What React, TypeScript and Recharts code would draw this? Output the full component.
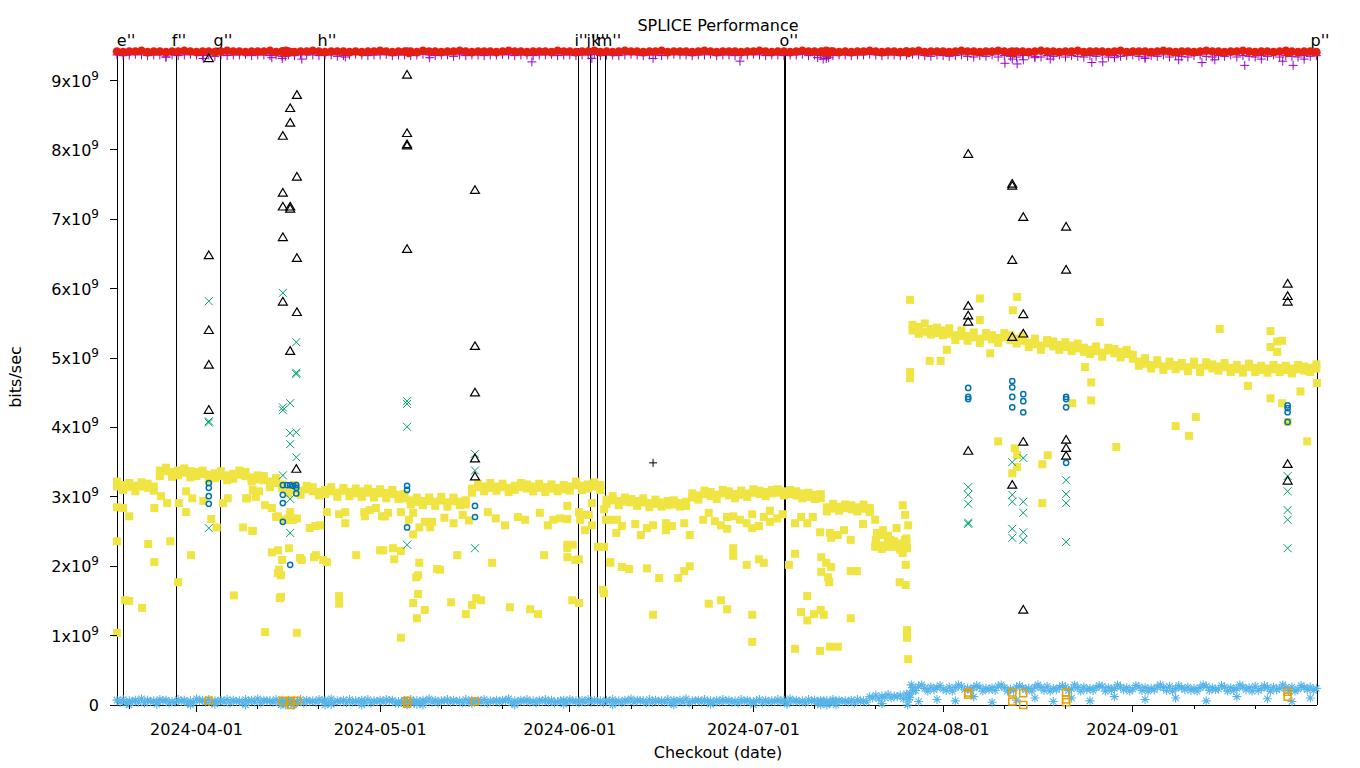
import React from 'react';
import { ScatterChart, Scatter, XAxis, YAxis, ReferenceLine } from 'recharts';

// x values are days counted from 2024-04-01, y values are in units of 1e9 bits/sec
const FIRST_DAY = -13;
const X_MIN = -13.0;
const X_MAX = 183.1;
const Y_MAX = 9.47;

const tickDates = ['2024-04-01', '2024-05-01', '2024-06-01', '2024-07-01', '2024-08-01', '2024-09-01'];
const minorTickDates = [
  '2024-03-21', '2024-04-11', '2024-04-21', '2024-05-11', '2024-05-21', '2024-06-11', '2024-06-21',
  '2024-07-11', '2024-07-21', '2024-08-11', '2024-08-21', '2024-09-11', '2024-09-21',
];
const yTicks = [0, 1, 2, 3, 4, 5, 6, 7, 8, 9];

// checkout markers (vertical lines)
const markerDays = [-13.0, -12.0, -3.35, 3.84, 20.83, 62.34, 64.3, 65.5, 66.9, 96.0, 96.3, 183.1];
const markerNames = ['', "e''", "f''", "g''", "h''", "i''", "j''", "k''", "m''", '', "o''", "p''"];

// one value per day, starting at FIRST_DAY
const redDaily = [
  9.42, 9.41, 9.42, 9.42, 9.43, 9.41, 9.42, 9.42, 9.41, 9.42, 9.42, 9.43, 9.42, 9.41, 9.42, 9.42, 9.41, 9.42, 9.43, 9.42,
  9.42, 9.41, 9.42, 9.42, 9.42, 9.43, 9.41, 9.42, 9.42, 9.41, 9.42, 9.42, 9.43, 9.42, 9.41, 9.42, 9.42, 9.42, 9.41, 9.42,
  9.41, 9.42, 9.42, 9.43, 9.42, 9.41, 9.42, 9.42, 9.42, 9.41, 9.43, 9.42, 9.42, 9.41, 9.42, 9.42, 9.43, 9.42, 9.41, 9.42,
  9.42, 9.42, 9.41, 9.42, 9.43, 9.42, 9.42, 9.41, 9.42, 9.42, 9.42, 9.41, 9.43, 9.42, 9.42, 9.41, 9.42, 9.42, 9.43, 9.41,
  9.42, 9.41, 9.42, 9.43, 9.42, 9.42, 9.41, 9.42, 9.42, 9.43, 9.41, 9.42, 9.42, 9.42, 9.41, 9.42, 9.43, 9.42, 9.41, 9.42,
  9.42, 9.42, 9.41, 9.42, 9.42, 9.43, 9.42, 9.41, 9.42, 9.42, 9.41, 9.42, 9.43, 9.42, 9.42, 9.41, 9.42, 9.42, 9.41, 9.42,
  9.41, 9.42, 9.42, 9.43, 9.42, 9.41, 9.42, 9.42, 9.41, 9.42, 9.42, 9.43, 9.41, 9.42, 9.42, 9.42, 9.41, 9.42, 9.43, 9.42,
  9.42, 9.41, 9.42, 9.42, 9.43, 9.42, 9.41, 9.42, 9.42, 9.41, 9.42, 9.43, 9.42, 9.42, 9.41, 9.42, 9.42, 9.43, 9.41, 9.42,
  9.42, 9.42, 9.41, 9.42, 9.43, 9.41, 9.42, 9.42, 9.42, 9.41, 9.42, 9.43, 9.42, 9.41, 9.42, 9.42, 9.41, 9.42, 9.43, 9.42,
  9.42, 9.41, 9.42, 9.42, 9.43, 9.42, 9.41, 9.42, 9.42, 9.41, 9.42, 9.43, 9.42, 9.41, 9.42, 9.42, 9.41,
];
const redExtra = [
  [14.0, 9.42], [14.3, 9.4], [14.6, 9.43], [15.3, 9.41], [34.4, 9.42], [34.7, 9.4], [102.1, 9.42], [102.5, 9.41],
  [102.9, 9.43], [103.3, 9.4], [103.7, 9.42], [116.0, 9.42], [116.3, 9.4], [133.3, 9.42], [133.6, 9.4], [178.3, 9.4],
];

const purpleDaily = [
  9.37, 9.36, 9.37, 9.38, 9.37, 9.36, 9.37, 9.37, 9.34, 9.37, 9.36, 9.37, 9.38, 9.37, 9.36, 9.37, 9.35, 9.37, 9.36, 9.37,
  9.37, 9.38, 9.36, 9.37, 9.37, 9.36, 9.37, 9.35, 9.37, 9.36, 9.38, 9.37, 9.37, 9.36, 9.37, 9.37, 9.35, 9.36, 9.37, 9.38,
  9.37, 9.36, 9.37, 9.37, 9.38, 9.36, 9.37, 9.37, 9.36, 9.37, 9.38, 9.37, 9.36, 9.37, 9.37, 9.35, 9.37, 9.36, 9.37, 9.37,
  9.36, 9.37, 9.37, 9.38, 9.37, 9.36, 9.37, 9.37, 9.36, 9.37, 9.37, 9.38, 9.36, 9.37, 9.37, 9.36, 9.37, 9.37, 9.38, 9.36,
  9.37, 9.37, 9.36, 9.37, 9.38, 9.37, 9.36, 9.37, 9.37, 9.36, 9.37, 9.38, 9.37, 9.37, 9.36, 9.37, 9.37, 9.38, 9.36, 9.37,
  9.37, 9.36, 9.37, 9.37, 9.38, 9.37, 9.36, 9.37, 9.37, 9.36, 9.37, 9.37, 9.38, 9.36, 9.37, 9.36, 9.35, 9.36, 9.37, 9.37,
  9.36, 9.37, 9.37, 9.38, 9.37, 9.36, 9.37, 9.37, 9.36, 9.37, 9.38, 9.37, 9.36, 9.35, 9.37, 9.36, 9.35, 9.36, 9.37, 9.35,
  9.34, 9.36, 9.35, 9.37, 9.34, 9.36, 9.35, 9.34, 9.36, 9.37, 9.35, 9.34, 9.36, 9.35, 9.37, 9.34, 9.36, 9.35, 9.34, 9.36,
  9.35, 9.37, 9.34, 9.36, 9.35, 9.36, 9.37, 9.35, 9.34, 9.36, 9.35, 9.37, 9.34, 9.36, 9.35, 9.34, 9.36, 9.37, 9.35, 9.34,
  9.36, 9.35, 9.37, 9.34, 9.36, 9.35, 9.34, 9.36, 9.35, 9.37, 9.34, 9.36, 9.35, 9.34, 9.36, 9.35, 9.36,
];
const purpleExtra = [
  [-5.0, 9.34], [1.1, 9.32], [12.3, 9.33], [14.0, 9.32], [14.5, 9.35], [17.2, 9.31], [24.3, 9.34], [38.1, 9.33],
  [54.8, 9.27], [64.6, 9.32], [74.6, 9.32], [88.8, 9.28], [101.5, 9.33], [102.4, 9.31], [102.9, 9.32], [103.3, 9.33],
  [132.1, 9.25], [133.3, 9.31], [134.1, 9.24], [135.1, 9.3], [137.0, 9.33], [139.5, 9.31], [146.3, 9.26], [148.1, 9.27],
  [150.0, 9.33], [155.0, 9.32], [160.5, 9.3], [164.3, 9.26], [166.4, 9.3], [171.3, 9.22], [174.0, 9.31], [177.5, 9.28],
  [179.2, 9.22], [181.0, 9.31],
];

const yellowDaily = [
  3.15, 3.17, 3.14, 3.16, 3.15, 3.13, 3.15,
  3.38, 3.37, 3.36, 3.38, 3.35, 3.37, 3.36,
  3.33, 3.32, 3.34, 3.3, 3.31, 3.33, 3.32, 3.3, 3.28, 3.31,
  3.24, 3.22, 3.2, 3.18,
  3.12, 3.1, 3.09, 3.11, 3.08, 3.07, 3.1,
  3.08, 3.06, 3.09, 3.07, 3.05, 3.08, 3.06, 3.07, 3.05, 3.06, 3.04,
  3.03, 2.98, 2.95, 2.93, 2.94,
  2.94, 2.93, 2.95, 2.92, 2.94, 2.93, 2.95,
  3.12, 3.14, 3.15, 3.13, 3.15, 3.14, 3.13, 3.16, 3.14, 3.12, 3.15, 3.13, 3.14, 3.12, 3.13, 3.11,
  3.15, 3.17, 3.16, 3.18, 3.15, 3.17,
  2.96, 2.95, 2.94, 2.93, 2.92, 2.94, 2.92, 2.91, 2.9, 2.92, 2.88, 2.89, 2.91, 2.93,
  2.99, 3.02, 3.04, 3.01, 3.03, 3.05, 3.02, 3.04, 3.03, 3.05, 3.06, 3.04, 3.07, 3.05, 3.06,
  3.08, 3.04, 3.02, 3.05, 3.0, 3.03, 2.98,
  2.85, 2.83, 2.86, 2.84, 2.82, 2.85, 2.83, 2.84,
  2.32, 2.3, 2.35, 2.28, 2.33, 2.4,
  5.4, 5.45, 5.38, 5.42, 5.36, 5.4, 5.35, 5.33, 5.32,
  5.32, 5.3, 5.28, 5.31, 5.27, 5.29, 5.3, 5.26, 5.28, 5.25,
  5.22, 5.2, 5.18, 5.21, 5.17, 5.19, 5.16, 5.18, 5.14, 5.15,
  5.12, 5.1, 5.08, 5.11, 5.07, 5.09, 5.06, 5.05,
  4.95, 4.92, 4.9, 4.91, 4.88, 4.89, 4.9,
  4.88, 4.87, 4.9, 4.86, 4.89, 4.85, 4.88, 4.87, 4.86, 4.84, 4.85, 4.87, 4.86, 4.83, 4.85, 4.84, 4.86, 4.83, 4.85, 4.84,
  4.82, 4.86, 4.85,
];
const yellowDaily2 = [
  3.22, 3.1, 3.2, 3.08, 3.21, 3.19, 3.09,
  3.3, 3.42, 3.29, 3.31, 3.41, 3.28, 3.3,
  3.38, 3.25, 3.27, 3.37, 3.24, 3.26, 3.38, 3.36, 3.22, 3.25,
  3.3, 3.14, 3.27, 3.12,
  3.05, 3.17, 3.03, 3.16, 3.14, 3.02, 3.04,
  3.14, 3.0, 3.13, 3.01, 3.12, 3.0, 3.12, 2.99, 3.11, 2.98, 3.1,
  2.97, 3.04, 2.89, 2.99, 2.88,
  2.99, 2.87, 3.0, 2.86, 2.99, 2.88, 2.89,
  3.06, 3.19, 3.08, 3.2, 3.09, 3.19, 3.07, 3.1, 3.2, 3.18, 3.08, 3.19, 3.07, 3.18, 3.08, 3.17,
  3.09, 3.22, 3.1, 3.12, 3.21, 3.1,
  2.9, 3.01, 2.88, 2.99, 2.97, 2.87, 2.98, 2.85, 2.96, 2.86, 2.94, 2.95, 2.86, 2.87,
  3.05, 2.96, 3.09, 3.07, 2.97, 3.1, 3.08, 2.98, 3.09, 3.0, 3.11, 3.09, 3.01, 3.1, 3.11,
  3.02, 3.1, 3.08, 2.98, 3.06, 2.97, 3.04,
  2.79, 2.9, 2.8, 2.89, 2.88, 2.79, 2.89, 2.78,
  2.38, 2.25, 2.28, 2.36, 2.24, 2.33,
  5.48, 5.35, 5.5, 5.34, 5.44, 5.33, 5.43, 5.26, 5.4,
  5.25, 5.37, 5.22, 5.36, 5.33, 5.22, 5.36, 5.33, 5.21, 5.32,
  5.16, 5.28, 5.12, 5.26, 5.24, 5.12, 5.23, 5.1, 5.21, 5.09,
  5.06, 5.17, 5.02, 5.15, 5.13, 5.01, 5.12, 4.99,
  4.89, 5.0, 4.85, 4.97, 4.83, 4.95, 4.84,
  4.93, 4.81, 4.95, 4.8, 4.94, 4.91, 4.82, 4.93, 4.8, 4.9, 4.79, 4.92, 4.8, 4.89, 4.79, 4.9, 4.8, 4.89, 4.78, 4.9,
  4.88, 4.8, 4.91,
];
const yellowExtra = [
  [-13.0, 2.85], [-12.0, 2.84], [-11.0, 2.72], [-6.9, 2.84], [-5.8, 3.01], [-4.8, 2.91], [-2.9, 2.91], [-1.7, 3.08],
  [-1.7, 2.78], [-0.7, 2.98], [1.1, 2.94], [3.3, 2.56], [4.3, 2.91], [5.1, 2.98], [8.3, 2.98], [9.7, 3.0], [10.2, 3.08],
  [11.2, 2.88], [13.0, 2.71], [15.0, 2.69], [-13.0, 2.36], [-13.0, 1.04], [-11.7, 1.51], [-11.0, 1.5], [-8.9, 1.4],
  [-7.9, 2.32], [-6.9, 2.06], [-4.3, 2.36], [-3.0, 1.77], [-0.9, 2.16], [2.4, 2.68], [6.1, 1.58], [7.6, 2.56], [9.1, 2.51],
  [8.1, 2.98], [9.2, 3.1], [12.3, 2.84], [13.3, 2.72], [15.3, 2.78], [16.4, 2.69], [15.3, 2.67], [9.2, 2.51], [19.4, 2.58],
  [20.2, 2.59], [21.3, 2.78], [23.3, 2.75], [24.3, 2.78], [24.3, 2.62], [27.4, 2.78], [28.3, 2.81], [29.3, 2.84],
  [30.3, 2.72], [31.3, 2.77], [33.4, 2.78], [35.4, 2.77], [36.4, 2.56], [37.3, 2.64], [38.5, 2.64], [36.0, 2.93],
  [12.3, 2.2], [13.3, 2.23], [14.0, 2.09], [13.3, 1.9], [17.2, 2.09], [19.2, 2.13], [21.3, 2.06], [30.5, 2.23],
  [32.3, 2.1], [33.4, 2.22], [36.4, 2.05], [36.2, 1.87], [39.3, 1.96], [13.8, 1.56], [23.3, 1.57], [23.3, 1.46],
  [36.2, 1.6], [35.4, 1.47], [37.3, 1.37], [36.0, 1.25], [33.4, 0.97], [11.2, 1.05], [16.4, 1.04],
  [13.5, 1.95], [13.6, 1.54], [13.8, 1.87], [14.5, 2.67], [15.1, 2.26], [15.8, 2.67], [16.9, 2.12], [18.5, 2.55],
  [19.5, 2.16], [20.7, 2.09], [26.1, 2.16], [27.5, 2.72], [30.0, 2.23], [30.8, 2.72], [32.1, 2.26], [34.7, 2.67],
  [35.4, 2.46], [35.9, 1.84], [38.2, 2.56], [39.8, 1.95], [41.6, 1.48], [42.6, 2.16], [44.0, 1.31], [45.0, 1.44],
  [45.7, 1.54], [46.5, 1.51], [47.6, 2.78], [48.3, 2.05], [48.9, 2.69], [50.4, 2.59], [51.2, 1.41], [52.5, 2.71],
  [53.7, 2.67], [54.5, 1.38], [55.8, 1.31], [56.1, 2.77], [56.8, 2.16], [57.4, 2.59], [58.3, 2.67], [59.4, 2.69],
  [60.6, 2.31], [61.4, 1.51], [61.9, 2.09], [62.7, 2.67], [63.5, 2.52], [64.1, 2.74], [65.6, 2.28], [66.4, 1.66],
  [66.9, 2.67], [67.6, 2.06], [40.5, 2.7], [42.0, 2.62], [43.5, 2.74], [44.5, 2.66],
  [60.6, 2.87], [60.6, 2.68], [62.5, 2.78], [63.5, 2.74], [64.6, 2.91], [64.6, 2.59], [66.6, 2.82], [67.6, 2.67],
  [68.7, 2.67], [69.5, 2.58], [68.6, 2.48], [71.7, 2.61], [72.6, 2.45], [73.6, 2.55], [74.6, 2.59], [76.7, 2.62],
  [76.7, 2.52], [77.7, 2.58], [79.7, 2.62], [80.6, 2.45], [82.8, 2.67], [83.7, 2.77], [84.7, 2.65], [85.7, 2.59],
  [86.7, 2.54], [86.7, 2.71], [87.7, 2.72], [88.8, 2.67], [89.9, 2.62], [90.8, 2.75], [90.8, 2.55], [91.9, 2.58],
  [92.7, 2.71], [93.7, 2.8], [93.7, 2.64], [94.9, 2.69], [95.8, 2.75], [97.8, 2.62], [98.8, 2.71], [99.8, 2.62],
  [100.7, 2.71], [101.9, 2.49], [103.5, 2.48], [104.8, 2.45], [105.8, 2.52], [106.9, 2.38], [108.9, 2.61], [110.9, 2.67],
  [110.9, 2.28], [87.7, 2.26], [87.7, 2.15], [89.9, 2.02], [91.9, 2.1], [92.7, 2.05], [66.6, 2.28], [67.6, 2.05],
  [69.5, 1.99], [70.7, 1.96], [73.6, 1.97], [75.6, 1.83], [78.7, 1.83], [79.7, 1.93], [80.6, 2.0], [60.6, 2.26],
  [61.5, 2.31], [60.6, 2.13], [62.5, 2.1], [66.6, 1.61], [62.5, 1.47], [83.7, 1.46], [85.7, 1.51], [86.7, 1.38],
  [90.8, 1.3], [90.8, 0.91], [74.6, 1.3], [96.8, 2.02], [97.8, 2.18], [99.8, 1.57], [98.8, 1.34], [99.8, 1.22],
  [100.9, 1.31], [102.0, 1.37], [102.5, 1.3], [97.8, 0.81], [101.9, 0.78], [103.5, 0.84], [104.8, 0.84], [106.9, 1.25],
  [106.9, 1.93], [107.9, 1.93], [102.1, 2.13], [102.9, 2.05], [103.7, 1.99], [102.1, 1.92], [103.2, 1.84], [103.4, 1.77],
  [103.7, 2.41], [111.2, 2.48],
  [110.0, 2.81], [111.7, 2.45], [113.0, 2.44], [112.2, 2.52], [113.4, 2.38], [114.4, 2.55], [115.4, 2.88], [115.8, 2.74],
  [116.3, 2.59], [116.1, 2.26], [115.9, 2.02], [114.9, 1.77], [115.9, 1.73], [116.1, 1.08], [116.1, 0.97], [116.3, 0.66],
  [115.4, 2.19], [115.8, 2.38],
  [116.6, 5.84], [116.6, 4.8], [116.6, 4.71], [128.0, 5.86], [134.1, 5.88], [128.0, 5.55], [133.4, 5.69], [122.6, 5.12],
  [119.8, 4.96], [121.6, 4.96], [129.7, 5.07], [145.2, 4.87], [146.2, 4.65], [146.2, 4.39], [143.1, 4.35], [131.0, 3.8],
  [133.7, 3.7], [134.1, 3.6], [139.1, 3.6], [138.2, 3.47], [133.3, 3.34], [138.2, 2.91], [134.1, 3.43], [147.6, 5.52],
  [150.3, 3.72], [160.0, 4.02], [162.2, 3.88], [163.3, 4.15], [167.2, 5.42], [171.8, 4.6], [175.5, 5.39], [176.6, 5.24],
  [177.4, 5.25], [175.5, 5.16], [176.6, 5.09], [175.5, 4.42], [177.4, 4.35], [180.4, 4.52], [181.5, 3.8], [183.1, 4.64],
  [178.3, 4.08],
];

// two readings a day for the low light-blue series (second one at midday)
const lightBlueDaily = [
  0.07, 0.08, 0.06, 0.07, 0.09, 0.07, 0.06, 0.08, 0.07, 0.05, 0.08, 0.07, 0.06, 0.09, 0.07, 0.08, 0.06, 0.07, 0.08, 0.07,
  0.06, 0.08, 0.07, 0.09, 0.07, 0.06, 0.08, 0.07, 0.07, 0.05, 0.08, 0.07, 0.06, 0.08, 0.07, 0.09, 0.06, 0.07, 0.08, 0.06,
  0.07, 0.08, 0.06, 0.07, 0.08, 0.07, 0.05, 0.07, 0.08, 0.06, 0.07, 0.09, 0.07, 0.06, 0.08, 0.07, 0.06, 0.08, 0.07, 0.07,
  0.08, 0.06, 0.07, 0.07, 0.09, 0.06, 0.07, 0.08, 0.06, 0.07, 0.08, 0.07, 0.05, 0.07, 0.08, 0.06, 0.07, 0.08, 0.07, 0.06,
  0.07, 0.08, 0.06, 0.07, 0.09, 0.07, 0.06, 0.08, 0.07, 0.06, 0.08, 0.07, 0.07, 0.09, 0.06, 0.07, 0.08, 0.06, 0.07, 0.08,
  0.07, 0.06, 0.08, 0.07, 0.05, 0.08, 0.07, 0.06, 0.08, 0.07, 0.09, 0.07, 0.06, 0.08, 0.07, 0.07, 0.06, 0.08, 0.07, 0.06,
  0.07, 0.08, 0.06,
  0.12, 0.14, 0.13, 0.15, 0.13, 0.14, 0.16,
  0.25, 0.27, 0.24, 0.26, 0.25, 0.23, 0.26, 0.25, 0.27, 0.24, 0.25, 0.26, 0.24, 0.25, 0.27, 0.25, 0.23, 0.26, 0.25, 0.24,
  0.26, 0.25, 0.27, 0.24, 0.25, 0.26, 0.23, 0.25, 0.26, 0.24, 0.25, 0.27, 0.25, 0.24, 0.26, 0.25, 0.23, 0.26, 0.25, 0.24,
  0.26, 0.25, 0.27, 0.24, 0.25, 0.26, 0.24, 0.25, 0.27, 0.25, 0.23, 0.26, 0.25, 0.24, 0.26, 0.25, 0.27, 0.24, 0.25, 0.26,
  0.24, 0.25, 0.26, 0.23, 0.25, 0.26, 0.24,
];
const lightBlueMidday = [
  0.04, 0.03, 0.05, 0.04, 0.03, 0.05, 0.04, 0.06, 0.03, 0.04, 0.05, 0.03, 0.04, 0.06, 0.04, 0.03, 0.05, 0.04, 0.03, 0.05,
  0.03, 0.05, 0.04, 0.03, 0.06, 0.04, 0.03, 0.05, 0.04, 0.04, 0.03, 0.05, 0.04, 0.06, 0.03, 0.04, 0.05, 0.03, 0.04, 0.05,
  0.04, 0.03, 0.05, 0.04, 0.06, 0.03, 0.04, 0.05, 0.03, 0.04, 0.05, 0.04, 0.03, 0.06, 0.04, 0.05, 0.03, 0.04, 0.05, 0.04,
  0.03, 0.05, 0.04, 0.06, 0.03, 0.04, 0.05, 0.04, 0.03, 0.05, 0.04, 0.03, 0.06, 0.04, 0.05, 0.03, 0.04, 0.04, 0.05, 0.03,
  0.05, 0.04, 0.03, 0.05, 0.04, 0.06, 0.03, 0.04, 0.05, 0.04, 0.03, 0.05, 0.04, 0.03, 0.06, 0.04, 0.05, 0.03, 0.04, 0.05,
  0.04, 0.03, 0.05, 0.04, 0.06, 0.03, 0.04, 0.05, 0.04, 0.03, 0.05, 0.04, 0.03, 0.05, 0.04, 0.06, 0.03, 0.04, 0.05, 0.04,
  0.03, 0.05, 0.04,
  0.1, 0.09, 0.11, 0.1, 0.12, 0.09, 0.11,
  0.21, 0.29, 0.2, 0.22, 0.28, 0.21, 0.2, 0.29, 0.22, 0.21, 0.28, 0.2, 0.22, 0.21, 0.29, 0.2, 0.21, 0.28, 0.22, 0.2,
  0.29, 0.21, 0.2, 0.22, 0.28, 0.21, 0.29, 0.2, 0.22, 0.21, 0.28, 0.2, 0.21, 0.29, 0.22, 0.2, 0.28, 0.21, 0.2, 0.22,
  0.29, 0.21, 0.2, 0.28, 0.22, 0.21, 0.2, 0.29, 0.21, 0.22, 0.28, 0.2, 0.21, 0.29, 0.22, 0.2, 0.21, 0.28, 0.2, 0.22,
  0.29, 0.21, 0.2, 0.28, 0.22, 0.21,
];
const lightBlueExtra = [
  [-11, 0.0], [-6.5, 0.01], [-1, 0.0], [3, 0.01], [8, 0.0], [13.8, 0.0], [14.1, 0.03], [14.5, 0.0], [15, 0.02],
  [15.3, 0.05], [15.8, 0.0], [16.3, 0.03], [21, 0.0], [22, 0.01], [27, 0.0], [33, 0.02], [34.4, 0.0], [35, 0.03],
  [35.5, 0.05], [36, 0.01], [37, 0.0], [45, 0.02], [52, 0.0], [60, 0.01], [68, 0.0], [78, 0.0], [84, 0.01], [91, 0.0],
  [96.5, 0.01], [101.5, 0.02], [102, 0.0], [102.5, 0.04], [103, 0.0], [103.5, 0.03], [104, 0.05], [104.5, 0.0],
  [112, 0.02], [116.2, 0.0], [116.4, 0.08], [116.6, 0.17], [116.8, 0.29], [117.2, 0.21], [118, 0.05], [121, 0.08],
  [124, 0.06], [127, 0.12], [130, 0.04], [134, 0.07], [137, 0.1], [140, 0.05], [143, 0.1], [146, 0.06], [150, 0.12],
  [155, 0.08], [160, 0.1], [165, 0.06], [170, 0.12], [175, 0.09], [179, 0.05], [182, 0.1],
];

const orangePoints = [
  [2.0, 0.06], [14.1, 0.06], [15.4, 0.06], [16.4, 0.06], [15.4, 0.0], [34.4, 0.06], [34.4, 0.02], [45.5, 0.05],
  [126.1, 0.18], [126.1, 0.15], [133.3, 0.18], [133.3, 0.05], [135.1, 0.17], [135.1, 0.0], [142.1, 0.18],
  [142.1, 0.08], [142.1, 0.04], [178.3, 0.19], [178.3, 0.12],
];

const trianglePoints = [
  [2.0, 9.32], [2.0, 6.48], [2.0, 5.4], [2.0, 4.9], [2.0, 4.25], [16.4, 8.79], [15.3, 8.6], [15.3, 8.39], [14.1, 8.2],
  [16.4, 7.61], [14.1, 7.38], [14.1, 7.18], [15.3, 7.18], [15.3, 7.15], [14.1, 6.74], [16.4, 6.44], [14.1, 5.81],
  [16.4, 5.66], [15.3, 5.1], [16.3, 3.4], [34.4, 9.08], [34.4, 8.24], [34.4, 8.08], [34.4, 8.06], [34.4, 6.57],
  [45.5, 7.42], [45.5, 5.17], [45.5, 4.5], [45.5, 3.55], [45.5, 3.29], [126.1, 7.94], [126.1, 5.75], [126.1, 5.61],
  [126.1, 5.52], [126.1, 3.66], [133.3, 7.51], [133.3, 7.48], [133.3, 6.41], [133.3, 5.3], [133.3, 3.17],
  [135.1, 7.03], [135.1, 5.63], [135.1, 5.35], [135.1, 3.79], [135.1, 1.37], [142.1, 6.89], [142.1, 6.27],
  [142.1, 3.82], [142.1, 3.7], [142.1, 3.59], [178.3, 6.07], [178.3, 5.89], [178.3, 5.81], [178.3, 3.47], [178.3, 3.23],
];

const tealPoints = [
  [2.0, 5.82], [2.0, 4.09], [2.0, 4.07], [2.0, 2.55], [14.1, 5.94], [16.3, 5.23], [16.3, 4.79], [16.3, 4.77],
  [14.1, 4.29], [14.1, 4.25], [15.3, 4.35], [15.3, 3.92], [16.3, 3.93], [15.3, 3.76], [16.3, 3.57], [14.1, 3.31],
  [15.3, 2.97], [15.3, 2.48], [34.4, 4.38], [34.4, 4.34], [34.4, 4.01], [34.4, 2.31], [45.5, 3.62], [45.5, 3.38],
  [45.5, 2.26], [126.1, 3.14], [126.1, 3.03], [126.1, 2.9], [126.1, 2.63], [126.1, 2.61], [133.3, 3.5], [133.3, 3.03],
  [133.3, 2.93], [133.3, 2.54], [133.3, 2.41], [135.1, 3.56], [135.1, 2.93], [135.1, 2.77], [135.1, 2.49],
  [135.1, 2.38], [142.1, 3.24], [142.1, 3.04], [142.1, 2.91], [142.1, 2.35], [178.3, 3.3], [178.3, 3.08],
  [178.3, 2.81], [178.3, 2.67], [178.3, 2.26],
];

const bluePoints = [
  [2.0, 3.2], [2.0, 3.13], [2.0, 3.01], [2.0, 2.9], [14.1, 3.17], [14.1, 3.03], [14.1, 2.91], [14.1, 2.64],
  [14.8, 3.17], [15.3, 3.17], [15.8, 3.16], [16.3, 3.17], [16.3, 3.13], [16.3, 3.05], [15.3, 2.02], [34.4, 3.16],
  [34.4, 3.1], [34.4, 2.56], [45.5, 2.87], [45.5, 2.71], [126.1, 4.57], [126.1, 4.44], [126.1, 4.41], [133.3, 4.67],
  [133.3, 4.58], [133.3, 4.44], [133.3, 4.29], [135.1, 4.48], [135.1, 4.38], [135.1, 4.22], [142.1, 4.44],
  [142.1, 4.41], [142.1, 4.29], [142.1, 3.49], [178.3, 4.32], [178.3, 4.28], [178.3, 4.22], [178.3, 4.08],
];

const blackPlusPoints = [[74.6, 3.49]];

interface Pt {
  x: number;
  y: number;
}

const DAY_MS = 86400000;
const dayOf = (s: string) => (Date.parse(s + 'T00:00:00Z') - Date.parse('2024-04-01T00:00:00Z')) / DAY_MS;
const majorTicks = tickDates.map(dayOf);
const allTicks = [...majorTicks, ...minorTickDates.map(dayOf)].sort((a, b) => a - b);

const daily = (vals: number[], start = FIRST_DAY): Pt[] => vals.map((y, i) => ({ x: start + i, y }));
const pairs = (list: number[][]): Pt[] => list.map(([x, y]) => ({ x, y }));

const FONT = 'DejaVu Sans, sans-serif';

// gnuplot-like point shapes
const filledCircle = (color: string, r: number) => (p: any) => <circle cx={p.cx} cy={p.cy} r={r} fill={color} />;
const openCircle = (color: string, r: number) => (p: any) => (
  <circle cx={p.cx} cy={p.cy} r={r} fill="none" stroke={color} strokeWidth={1.5} />
);
const plus = (color: string, s: number, w: number) => (p: any) => (
  <path d={`M${p.cx - s},${p.cy}H${p.cx + s}M${p.cx},${p.cy - s}V${p.cy + s}`} stroke={color} strokeWidth={w} fill="none" />
);
const cross = (color: string, s: number) => (p: any) => (
  <path
    d={`M${p.cx - s},${p.cy - s}L${p.cx + s},${p.cy + s}M${p.cx - s},${p.cy + s}L${p.cx + s},${p.cy - s}`}
    stroke={color}
    strokeWidth={1}
    fill="none"
  />
);
const star = (color: string, s: number) => (p: any) => (
  <path
    d={`M${p.cx - s},${p.cy}H${p.cx + s}M${p.cx},${p.cy - s}V${p.cy + s}M${p.cx - s * 0.7},${p.cy - s * 0.7}L${p.cx + s * 0.7},${p.cy + s * 0.7}M${p.cx - s * 0.7},${p.cy + s * 0.7}L${p.cx + s * 0.7},${p.cy - s * 0.7}`}
    stroke={color}
    strokeWidth={1.1}
    fill="none"
  />
);
const filledSquare = (color: string, s: number) => (p: any) => (
  <rect x={p.cx - s} y={p.cy - s} width={2 * s} height={2 * s} fill={color} />
);
const openSquare = (color: string, s: number) => (p: any) => (
  <rect x={p.cx - s} y={p.cy - s} width={2 * s} height={2 * s} fill="none" stroke={color} strokeWidth={1.5} />
);
const openTriangle = (color: string, s: number) => (p: any) => (
  <path d={`M${p.cx},${p.cy - s}L${p.cx + s},${p.cy + s * 0.7}L${p.cx - s},${p.cy + s * 0.7}Z`} fill="none" stroke={color} strokeWidth={1.2} />
);

const BottomTick = (props: any) => {
  const { x, y, payload } = props;
  const major = majorTicks.includes(payload.value);
  const label = tickDates[majorTicks.indexOf(payload.value)];
  return (
    <g>
      <line x1={x} x2={x} y1={y} y2={y + (major ? 7 : 4)} stroke="#000" shapeRendering="crispEdges" />
      {major && (
        <text x={x} y={y + 30} textAnchor="middle" fontSize={16} fontFamily={FONT} fill="#000">
          {label}
        </text>
      )}
    </g>
  );
};

const TopTick = (props: any) => {
  const { x, y, payload } = props;
  const major = majorTicks.includes(payload.value);
  return <line x1={x} x2={x} y1={y} y2={y - (major ? 5 : 3)} stroke="#000" shapeRendering="crispEdges" />;
};

const LeftTick = (props: any) => {
  const { x, y, payload } = props;
  const v = payload.value;
  return (
    <g>
      <line x1={x - 7} x2={x} y1={y} y2={y} stroke="#000" shapeRendering="crispEdges" />
      <text x={x - 18} y={y + 6} textAnchor="end" fontSize={16} fontFamily={FONT} fill="#000">
        {v === 0 ? (
          '0'
        ) : (
          <>
            <tspan>{`${v}x10`}</tspan>
            <tspan dy={-7} fontSize={12}>
              9
            </tspan>
          </>
        )}
      </text>
    </g>
  );
};

const RightTick = (props: any) => {
  const { x, y } = props;
  return <line x1={x} x2={x + 8} y1={y} y2={y} stroke="#000" shapeRendering="crispEdges" />;
};

const markerLabel = (name: string) => (p: any) =>
  name ? (
    <text x={p.viewBox.x + 3} y={p.viewBox.y - 2} textAnchor="middle" fontSize={16} fontFamily={FONT} fill="#000">
      {name}
    </text>
  ) : null;

const App: React.FC = () => {
  const common = { isAnimationActive: false, xAxisId: 0, yAxisId: 0 };
  const axisLine = { stroke: '#000', shapeRendering: 'crispEdges' };
  return (
    <div style={{ position: 'absolute', left: 0, top: 0, width: 1360, height: 768, background: '#fff' }}>
      <ScatterChart width={1360} height={768} margin={{ top: 48, right: 43, bottom: 33, left: 57 }}>
        <XAxis
          xAxisId={0}
          type="number"
          dataKey="x"
          domain={[X_MIN, X_MAX]}
          ticks={allTicks}
          interval={0}
          tick={BottomTick}
          tickLine={false}
          tickSize={0}
          tickMargin={0}
          height={30}
          axisLine={axisLine}
        />
        <XAxis
          xAxisId="top"
          orientation="top"
          type="number"
          dataKey="x"
          domain={[X_MIN, X_MAX]}
          ticks={allTicks}
          interval={0}
          tick={TopTick}
          tickLine={false}
          tickSize={0}
          tickMargin={0}
          height={0}
          axisLine={false}
        />
        <YAxis
          yAxisId={0}
          type="number"
          dataKey="y"
          domain={[0, Y_MAX]}
          ticks={yTicks}
          interval={0}
          tick={LeftTick}
          tickLine={false}
          tickSize={0}
          tickMargin={0}
          width={60}
          axisLine={axisLine}
        />
        <YAxis
          yAxisId="right"
          orientation="right"
          type="number"
          dataKey="y"
          domain={[0, Y_MAX]}
          ticks={yTicks}
          interval={0}
          tick={RightTick}
          tickLine={false}
          tickSize={0}
          tickMargin={0}
          width={0}
          axisLine={false}
        />

        {markerDays.map((d, i) => (
          <ReferenceLine
            key={`m-${i}`}
            x={d}
            xAxisId={0}
            yAxisId={0}
            stroke="#000"
            strokeWidth={1}
            shapeRendering="crispEdges"
            label={markerLabel(markerNames[i])}
          />
        ))}

        <Scatter {...common} data={daily(yellowDaily2)} shape={filledSquare('#f0e442', 4)} />
        <Scatter {...common} data={daily(yellowDaily)} shape={filledSquare('#f0e442', 4)} />
        <Scatter {...common} data={pairs(yellowExtra)} shape={filledSquare('#f0e442', 4)} />
        <Scatter {...common} data={daily(lightBlueDaily)} shape={star('#56b4e9', 4.5)} />
        <Scatter {...common} data={daily(lightBlueMidday, FIRST_DAY + 0.5)} shape={star('#56b4e9', 4.5)} />
        <Scatter {...common} data={pairs(lightBlueExtra)} shape={star('#56b4e9', 4.5)} />
        <Scatter {...common} data={pairs(orangePoints)} shape={openSquare('#e69f00', 3.5)} />
        <Scatter {...common} data={daily(purpleDaily)} shape={plus('#9400d3', 4.5, 1)} />
        <Scatter {...common} data={pairs(purpleExtra)} shape={plus('#9400d3', 4.5, 1)} />
        <Scatter {...common} data={daily(redDaily)} shape={filledCircle('#e51e10', 4.3)} />
        <Scatter {...common} data={pairs(redExtra)} shape={filledCircle('#e51e10', 4.3)} />
        <Scatter {...common} data={pairs(tealPoints)} shape={cross('#009e73', 4)} />
        <Scatter {...common} data={pairs(bluePoints)} shape={openCircle('#0072b2', 2.6)} />
        <Scatter {...common} data={pairs(trianglePoints)} shape={openTriangle('#000', 4.5)} />
        <Scatter {...common} data={pairs(blackPlusPoints)} shape={plus('#000', 4, 1)} />
      </ScatterChart>

      <svg width={1360} height={768} style={{ position: 'absolute', left: 0, top: 0, pointerEvents: 'none' }}>
        <text x={718} y={31} textAnchor="middle" fontSize={16} fontFamily={FONT} fill="#000">
          SPLICE Performance
        </text>
        <text x={718} y={758} textAnchor="middle" fontSize={16} fontFamily={FONT} fill="#000">
          Checkout (date)
        </text>
        <text x={21} y={377} textAnchor="middle" fontSize={16} fontFamily={FONT} fill="#000" transform="rotate(-90 21 377)">
          bits/sec
        </text>
      </svg>
    </div>
  );
};

export default App;
